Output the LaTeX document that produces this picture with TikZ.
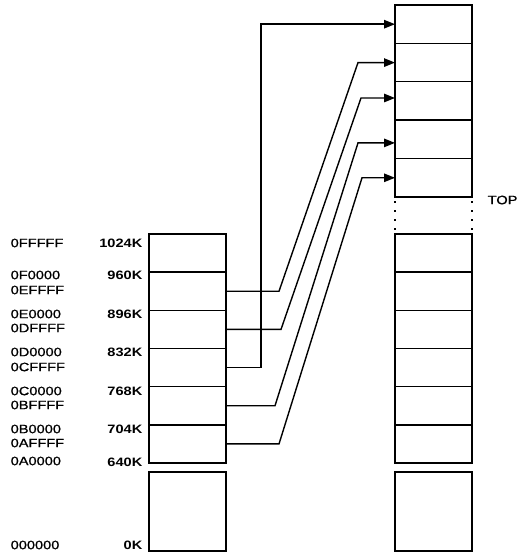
\documentclass[tikz,border=0pt]{standalone}
\usepackage{fontspec}
\newfontfamily\labfont[FakeBold=0.8]{Liberation Sans}
\newfontfamily\kfont{Liberation Sans Bold}
\newcommand{\wide}[1]{\scalebox{1.2}[1]{#1}}
\usetikzlibrary{arrows.meta,calc}
\begin{document}
\begin{tikzpicture}[x=1bp,y=-1bp,line width=1.4bp,
  cell/.style={draw,minimum width=77bp,minimum height=38.17bp,inner sep=0,outer sep=0,anchor=north west},
  ucell/.style={cell,minimum height=38.4bp},
  bigbox/.style={cell,minimum height=79bp},
  hex/.style={anchor=west,font=\labfont\fontsize{12.2}{14}\selectfont,inner sep=0},
  kb/.style={anchor=east,font=\kfont\fontsize{12.2}{14}\selectfont,inner sep=0},
  arr/.style={-{Triangle[length=11bp,width=8.5bp]},line width=1.4bp}]
\useasboundingbox (0,0) rectangle (517,555);
% left column
\node[cell] (L1) at (149,234) {};
\node[cell] (L2) at (149,272.17) {};
\node[cell] (L3) at (149,310.33) {};
\node[cell] (L4) at (149,348.5) {};
\node[cell] (L5) at (149,386.67) {};
\node[cell] (L6) at (149,424.83) {};
\node[bigbox] (L0) at (149,472) {};
% right column, upper part
\node[ucell] (R1) at (395,5) {};
\node[ucell] (R2) at (395,43.4) {};
\node[ucell] (R3) at (395,81.8) {};
\node[ucell] (R4) at (395,120.2) {};
\node[ucell] (R5) at (395,158.6) {};
% right column, lower part
\node[cell] (R6) at (395,234) {};
\node[cell] (R7) at (395,272.17) {};
\node[cell] (R8) at (395,310.33) {};
\node[cell] (R9) at (395,348.5) {};
\node[cell] (R10) at (395,386.67) {};
\node[cell] (R11) at (395,424.83) {};
\node[bigbox] (R0) at (395,472) {};
% dotted continuation
\draw[line width=1.5bp,dash pattern=on 1.5bp off 7.5bp] ([yshift=-4bp]R5.south west) -- (R6.north west);
\draw[line width=1.5bp,dash pattern=on 1.5bp off 7.5bp] ([yshift=-4bp]R5.south east) -- (R6.north east);
\node[hex] (top) at (487,200) {\wide{TOP}};
% labels
\node[hex] (h1) at (10,243) {\wide{0FFFFF}};
\node[hex] (h2) at (10,275) {\wide{0F0000}};
\node[hex] (h3) at (10,290) {\wide{0EFFFF}};
\node[hex] (h4) at (10,314) {\wide{0E0000}};
\node[hex] (h5) at (10,328) {\wide{0DFFFF}};
\node[hex] (h6) at (10,352) {\wide{0D0000}};
\node[hex] (h7) at (10,367) {\wide{0CFFFF}};
\node[hex] (h8) at (10,391) {\wide{0C0000}};
\node[hex] (h9) at (10,405) {\wide{0BFFFF}};
\node[hex] (h10) at (10,429) {\wide{0B0000}};
\node[hex] (h11) at (10,443) {\wide{0AFFFF}};
\node[hex] (h12) at (10,461) {\wide{0A0000}};
\node[hex] (h13) at (10,545) {\wide{000000}};
\node[kb] (k1) at (143,243) {\wide{1024K}};
\node[kb] (k2) at (143,275) {\wide{960K}};
\node[kb] (k3) at (143,314) {\wide{896K}};
\node[kb] (k4) at (143,352) {\wide{832K}};
\node[kb] (k5) at (143,391) {\wide{768K}};
\node[kb] (k6) at (143,429) {\wide{704K}};
\node[kb] (k7) at (143,462) {\wide{640K}};
\node[kb] (k8) at (143,545) {\wide{0K}};
% connectors
\draw[arr] (L2.east) -- ($(L2.east)+(53,0)$) -- ($(R2.west)+(-37,0)$) -- (R2.west);
\draw[arr] (L3.east) -- ($(L3.east)+(55,0)$) -- ($([yshift=3bp]R3.west)+(-34,0)$) -- ([yshift=3bp]R3.west);
\draw[arr] (L4.east) -- ($(L4.east)+(35,0)$) |- (R1.west);
\draw[arr] (L5.east) -- ($(L5.east)+(49,0)$) -- ($([yshift=-3.5bp]R4.west)+(-37,0)$) -- ([yshift=-3.5bp]R4.west);
\draw[arr] (L6.east) -- ($(L6.east)+(53,0)$) -- ($(R5.west)+(-33,0)$) -- (R5.west);
\end{tikzpicture}
\end{document}
